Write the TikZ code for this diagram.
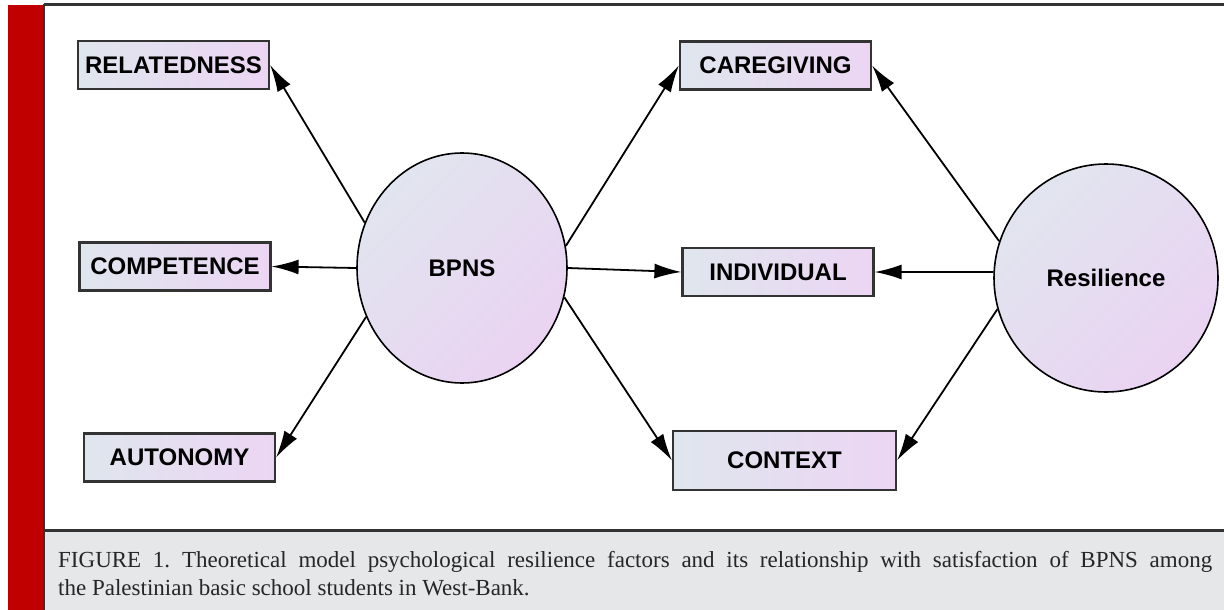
\documentclass[tikz,border=0pt]{standalone}
\usepackage{fontspec}
\newfontfamily\labfont{Liberation Sans}
\newfontfamily\capfont{Liberation Serif}
\usetikzlibrary{shapes.geometric,arrows.meta}
\definecolor{redbar}{HTML}{C00000}
\definecolor{frameline}{HTML}{333333}
\definecolor{capbg}{HTML}{E6E7E9}
\definecolor{boxL}{HTML}{DFE6EE}
\definecolor{boxR}{HTML}{ECD5F3}
\definecolor{circA}{HTML}{E1E5EF}
\definecolor{circB}{HTML}{EAD3F2}
\tikzset{
  factor/.style={draw=frameline, line width=2.2pt, left color=boxL, right color=boxR,
    inner sep=0pt, minimum width=191pt, minimum height=48pt,
    font=\labfont\bfseries\fontsize{24}{28}\selectfont},
  latent/.style={ellipse, draw=black, line width=1.6pt, top color=circA, bottom color=circB,
    shading angle=45, inner sep=0pt,
    font=\labfont\bfseries\fontsize{24}{28}\selectfont},
  link/.style={draw=black, line width=1.8pt, -{Latex[length=27pt,width=15pt]}}
}
\begin{document}
\begin{tikzpicture}[x=1pt,y=-1pt]
\useasboundingbox (0,0) rectangle (1224,610);
\fill[white] (0,0) rectangle (1224,610);
% frame
\fill[redbar] (8,5) rectangle (43,610);
\fill[capbg] (44,531) rectangle (1224,610);
\draw[frameline, line width=3pt] (44,5) -- (1224,5);
\draw[frameline, line width=3pt] (44,530.5) -- (1224,530.5);
\draw[frameline, line width=2pt] (44,4) -- (44,610);
% nodes
\node[factor] (rel) at (173.5,65) {RELATEDNESS};
\node[factor] (comp) at (175,266.5) {COMPETENCE};
\node[factor] (aut) at (179.5,457.5) {AUTONOMY};
\node[factor] (care) at (775.5,65.5) {CAREGIVING};
\node[factor] (ind) at (778,272) {INDIVIDUAL};
\node[factor, minimum width=223pt, minimum height=59pt] (ctx) at (784.5,460.5) {CONTEXT};
\node[latent, minimum width=210pt, minimum height=230pt] (bpns) at (462,268) {BPNS};
\node[latent, minimum width=224pt, minimum height=228pt] (res) at (1106,278) {Resilience};
% connectors
\draw[link] (bpns.155) -- (rel.east);
\draw[link] (bpns.west) -- (comp.east);
\draw[link] (bpns.207) -- (aut.east);
\draw[link] (bpns.12) -- (care.west);
\draw[link] (bpns.east) -- (ind.west);
\draw[link] (bpns.344) -- (ctx.west);
\draw[link] (res.161) -- (care.east);
\draw[link] (res.177) -- (ind.east);
\draw[link] (res.196) -- (ctx.east);
% caption
\node[anchor=north west, inner sep=0pt, text width=1154pt, align=justify,
  font=\capfont\fontsize{23}{28}\selectfont\frenchspacing, text=black!85] (cap) at (58,551)
  {FIGURE 1. Theoretical model psychological resilience factors and its relationship with satisfaction of BPNS among\linebreak the Palestinian basic school students in West-Bank.};
\end{tikzpicture}
\end{document}
